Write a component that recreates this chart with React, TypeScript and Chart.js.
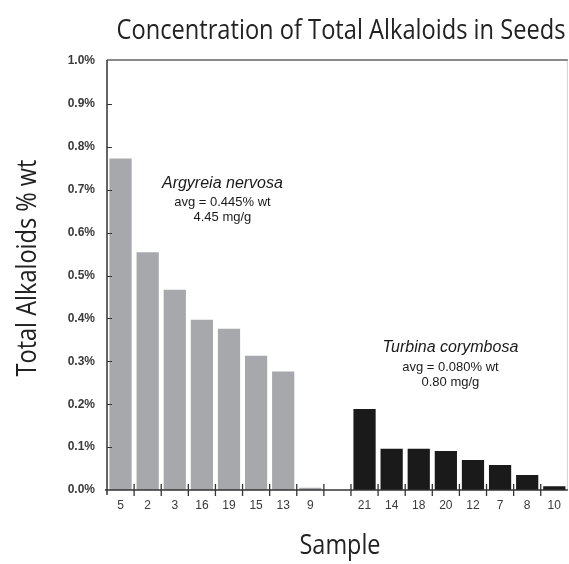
import React, { useEffect, useRef } from 'react';
import { Chart, registerables } from 'chart.js';

Chart.register(...registerables);

// ---- Data ----
const categories = ['5', '2', '3', '16', '19', '15', '13', '9', '', '21', '14', '18', '20', '12', '7', '8', '10'];
const argyreiaValues = [0.773, 0.554, 0.467, 0.397, 0.376, 0.313, 0.276, 0.005];
const turbinaValues = [0.189, 0.096, 0.096, 0.091, 0.07, 0.058, 0.035, 0.009];
const yMin = 0;
const yMax = 1.0;
const yStep = 0.1;
const chartTitle = 'Concentration of Total Alkaloids in Seeds';
const yAxisTitle = 'Total Alkaloids % wt';
const xAxisTitle = 'Sample';
const argyreiaNote = ['Argyreia nervosa', 'avg = 0.445% wt', '4.45 mg/g'];
const turbinaNote = ['Turbina corymbosa', 'avg = 0.080% wt', '0.80 mg/g'];

const GRAY = '#a7a8ab';
const BLACK = '#1b1a1a';

const values: (number | null)[] = [...argyreiaValues, null, ...turbinaValues];
const colors: string[] = [
  ...argyreiaValues.map(() => GRAY),
  GRAY,
  ...turbinaValues.map(() => BLACK),
];

const W = 569;
const H = 564;

const decorPlugin = {
  id: 'decor',
  afterDraw(chart: any) {
    const ctx = chart.ctx as CanvasRenderingContext2D;
    const area = chart.chartArea;
    const xs = chart.scales.x;
    const ys = chart.scales.y;
    ctx.save();

    // top border & right border
    ctx.strokeStyle = '#8a8a8a';
    ctx.lineWidth = 2;
    ctx.beginPath();
    ctx.moveTo(area.left, area.top - 1);
    ctx.lineTo(area.right, area.top - 1);
    ctx.stroke();
    ctx.strokeStyle = '#d0d0d0';
    ctx.lineWidth = 1;
    ctx.beginPath();
    ctx.moveTo(area.right - 0.5, area.top);
    ctx.lineTo(area.right - 0.5, area.bottom);
    ctx.stroke();

    // y axis line
    ctx.strokeStyle = '#333';
    ctx.lineWidth = 1.5;
    ctx.beginPath();
    ctx.moveTo(area.left, area.top - 1);
    ctx.lineTo(area.left, area.bottom + 5);
    ctx.stroke();
    // x axis line
    ctx.beginPath();
    ctx.moveTo(area.left - 2, area.bottom);
    ctx.lineTo(area.right, area.bottom);
    ctx.stroke();

    // y ticks (inward)
    ctx.lineWidth = 1;
    for (let v = yMin + yStep; v <= yMax - yStep / 2; v += yStep) {
      const y = Math.round(ys.getPixelForValue(v)) + 0.5;
      ctx.beginPath();
      ctx.moveTo(area.left, y);
      ctx.lineTo(area.left + 5, y);
      ctx.stroke();
    }

    // x ticks at category boundaries
    ctx.lineWidth = 1.3;
    for (let i = 1; i < categories.length; i++) {
      const x = (xs.getPixelForValue(i - 1) + xs.getPixelForValue(i)) / 2;
      ctx.beginPath();
      ctx.moveTo(x, area.bottom - 6);
      ctx.lineTo(x, area.bottom + 6);
      ctx.stroke();
    }

    // titles (condensed humanist look)
    ctx.fillStyle = '#222';
    ctx.font = '27px "Open Sans"';
    ctx.textAlign = 'center';
    ctx.textBaseline = 'middle';
    const fitText = (text: string, cx: number, cy: number, targetW: number, rot = 0) => {
      const m = ctx.measureText(text).width;
      const s = targetW / m;
      ctx.save();
      ctx.translate(cx, cy);
      ctx.rotate(rot);
      ctx.scale(s, 1);
      ctx.fillText(text, 0, 0);
      ctx.restore();
    };
    fitText(chartTitle, 341, 31, 449);
    fitText(yAxisTitle, 28, 268, 217, -Math.PI / 2);
    fitText(xAxisTitle, 340, 546, 81);

    // annotations
    const drawNote = (lines: string[], cx: number, cy: number) => {
      ctx.fillStyle = '#1a1a1a';
      ctx.textAlign = 'center';
      ctx.textBaseline = 'middle';
      ctx.font = 'italic 16px "Liberation Sans", Arial, sans-serif';
      ctx.fillText(lines[0], cx, cy);
      ctx.font = '13px "Liberation Sans", Arial, sans-serif';
      ctx.fillText(lines[1], cx, cy + 19);
      ctx.fillText(lines[2], cx, cy + 34);
    };
    const xAt = (idx: number) => xs.getPixelForValue(idx);
    drawNote(argyreiaNote, (xAt(3) + xAt(4)) / 2 + 7, ys.getPixelForValue(0.715));
    drawNote(turbinaNote, (xAt(12) + xAt(13)) / 2 - 9, ys.getPixelForValue(0.331));

    ctx.restore();
  },
};

export default function App() {
  const ref = useRef<HTMLCanvasElement | null>(null);
  useEffect(() => {
    if (!ref.current) return;
    const chart = new Chart(ref.current, {
      type: 'bar',
      data: {
        labels: categories,
        datasets: [
          {
            data: values as any,
            backgroundColor: colors,
            borderWidth: 0,
            barPercentage: 0.82,
            categoryPercentage: 1,
          },
        ],
      },
      options: {
        responsive: false,
        animation: false,
        devicePixelRatio: 1,
        layout: { padding: { top: 61, right: 1, left: 0, bottom: 0 } },
        plugins: {
          legend: { display: false },
          tooltip: { enabled: false },
          title: { display: false },
        },
        scales: {
          x: {
            type: 'category',
            grid: { display: false, drawTicks: false },
            border: { display: false },
            ticks: {
              autoSkip: false,
              maxRotation: 0,
              padding: 8,
              color: '#3a3a3a',
              font: { family: '"Liberation Sans", Arial, sans-serif', size: 12 },
            },
            afterFit: (s: any) => {
              s.height = 74;
            },
          },
          y: {
            min: yMin,
            max: yMax,
            grid: { display: false, drawTicks: false },
            border: { display: false },
            ticks: {
              stepSize: yStep,
              padding: 12,
              color: '#3a3a3a',
              font: { family: '"Liberation Sans", Arial, sans-serif', size: 12, weight: 'bold' },
              callback: (v: any) => Number(v).toFixed(1) + '%',
            },
            afterFit: (s: any) => {
              s.width = 107;
            },
          },
        },
      },
      plugins: [decorPlugin],
    });
    return () => chart.destroy();
  }, []);

  return (
    <div style={{ position: 'fixed', left: 0, top: 0, width: W, height: H, background: '#fff' }}>
      <canvas ref={ref} width={W} height={H} style={{ width: W, height: H, display: 'block' }} />
    </div>
  );
}
